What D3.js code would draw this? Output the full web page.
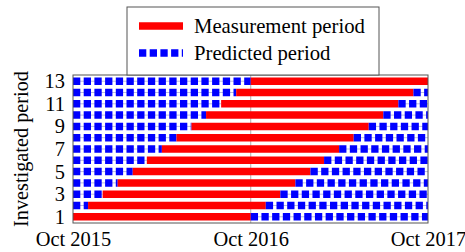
<!DOCTYPE html>
<html>
<head>
<meta charset="utf-8">
<script src="https://cdn.jsdelivr.net/npm/d3@7"></script>
<style>
  html, body { margin: 0; padding: 0; background: #fff; }
  svg { display: block; }
</style>
</head>
<body>
<svg id="chart" width="465" height="252"></svg>
<script>
// ---- data ----
const periods = [1, 2, 3, 4, 5, 6, 7, 8, 9, 10, 11, 12, 13];
const measurementStart = ["2015-10", "2015-11", "2015-12", "2016-01", "2016-02", "2016-03", "2016-04",
                          "2016-05", "2016-06", "2016-07", "2016-08", "2016-09", "2016-10"];
const measurementEnd   = ["2016-10", "2016-11", "2016-12", "2017-01", "2017-02", "2017-03", "2017-04",
                          "2017-05", "2017-06", "2017-07", "2017-08", "2017-09", "2017-10"];
const axisStart = "2015-10";
const axisEnd = "2017-10";
const xTickLabels = ["Oct 2015", "Oct 2016", "Oct 2017"];
const xTickDates = ["2015-10", "2016-10", "2017-10"];
const yTicks = [1, 3, 5, 7, 9, 11, 13];
const legendLabels = ["Measurement period", "Predicted period"];

// ---- layout ----
const FONT = "'Liberation Serif', 'Times New Roman', Times, serif";
const parse = d3.timeParse("%Y-%m");
const svg = d3.select("#chart");
const mL = 73, mR = 428, mT = 75, mB = 223;

// measure text to choose font sizes matching the reference widths
function fitSize(str, targetW) {
  const t = svg.append("text").style("font-family", FONT).style("font-size", "20px").text(str);
  const w = t.node().getComputedTextLength();
  t.remove();
  return w > 0 ? 20 * targetW / w : 20;
}
const tickFS = Math.min(22, Math.max(19, fitSize("Oct 2015", 75.5)));
const labelFS = Math.min(22, Math.max(19, fitSize("Investigated period", 156)));
const legendFS = Math.min(23, Math.max(19, fitSize("Measurement period", 171)));

const x = d3.scaleTime().domain([parse(axisStart), parse(axisEnd)]).range([mL, mR]);
const y = d3.scaleLinear().domain([0.45, 13.55]).range([mB, mT]);

const RED = "#ff0000", BLUE = "#0000ff";
const barW = 7.5;
const dash = "7.3,3.4";

// gridline at middle tick
svg.append("g").selectAll("line").data(xTickDates.slice(1, -1)).join("line")
  .attr("x1", d => x(parse(d))).attr("x2", d => x(parse(d)))
  .attr("y1", mT).attr("y2", mB)
  .attr("stroke", "#999").attr("stroke-width", 0.8);

// segments
const segs = [];
periods.forEach((p, i) => {
  const s = parse(measurementStart[i]), e = parse(measurementEnd[i]);
  const a0 = parse(axisStart), a1 = parse(axisEnd);
  if (s > a0) segs.push({ p, from: a0, to: s, type: "pred" });
  segs.push({ p, from: s, to: e, type: "meas" });
  if (e < a1) segs.push({ p, from: e, to: a1, type: "pred" });
});

const g = svg.append("g");
// thin connecting line under dashes
g.selectAll("line.thin").data(segs.filter(d => d.type === "pred")).join("line")
  .attr("class", "thin")
  .attr("x1", d => x(d.from)).attr("x2", d => x(d.to))
  .attr("y1", d => y(d.p)).attr("y2", d => y(d.p))
  .attr("stroke", "#b8b8e0").attr("stroke-width", 1);

g.selectAll("line.seg").data(segs).join("line")
  .attr("class", "seg")
  .attr("x1", d => x(d.from)).attr("x2", d => x(d.to))
  .attr("y1", d => y(d.p)).attr("y2", d => y(d.p))
  .attr("stroke", d => d.type === "meas" ? RED : BLUE)
  .attr("stroke-width", barW)
  .attr("stroke-dasharray", d => d.type === "meas" ? null : dash);

// frame
svg.append("rect").attr("x", mL).attr("y", mT).attr("width", mR - mL).attr("height", mB - mT)
  .attr("fill", "none").attr("stroke", "#555").attr("stroke-width", 1);

// axes
const xAxis = d3.axisBottom(x).tickValues(xTickDates.map(parse))
  .tickFormat((d, i) => xTickLabels[i]).tickSize(0).tickPadding(8);
const xg = svg.append("g").attr("transform", `translate(0,${mB})`).call(xAxis);
xg.select(".domain").remove();
xg.selectAll("text").style("font-size", tickFS + "px").style("font-family", FONT).attr("fill", "#000");

const yAxis = d3.axisLeft(y).tickValues(yTicks).tickFormat(d3.format("d")).tickSize(0).tickPadding(8);
const yg = svg.append("g").attr("transform", `translate(${mL},0)`).call(yAxis);
yg.select(".domain").remove();
yg.selectAll("text").style("font-size", tickFS + "px").style("font-family", FONT).attr("fill", "#000");

svg.append("text")
  .attr("transform", `translate(27.5,${(mT + mB) / 2}) rotate(-90)`)
  .attr("text-anchor", "middle")
  .style("font-size", labelFS + "px").style("font-family", FONT).attr("fill", "#000")
  .text("Investigated period");

// legend
const lg = svg.append("g");
lg.append("rect").attr("x", 127).attr("y", 7).attr("width", 252).attr("height", 68)
  .attr("fill", "#fff").attr("stroke", "#555").attr("stroke-width", 1);
const items = [{ label: legendLabels[0], type: "meas", y: 26 }, { label: legendLabels[1], type: "pred", y: 53 }];
items.forEach(it => {
  lg.append("line").attr("x1", 139).attr("x2", 183).attr("y1", it.y).attr("y2", it.y)
    .attr("stroke", it.type === "meas" ? RED : BLUE).attr("stroke-width", barW)
    .attr("stroke-dasharray", it.type === "meas" ? null : dash);
  lg.append("text").attr("x", 194).attr("y", it.y + 6.5)
    .style("font-size", legendFS + "px").style("font-family", FONT).attr("fill", "#000")
    .text(it.label);
});
</script>
</body>
</html>
